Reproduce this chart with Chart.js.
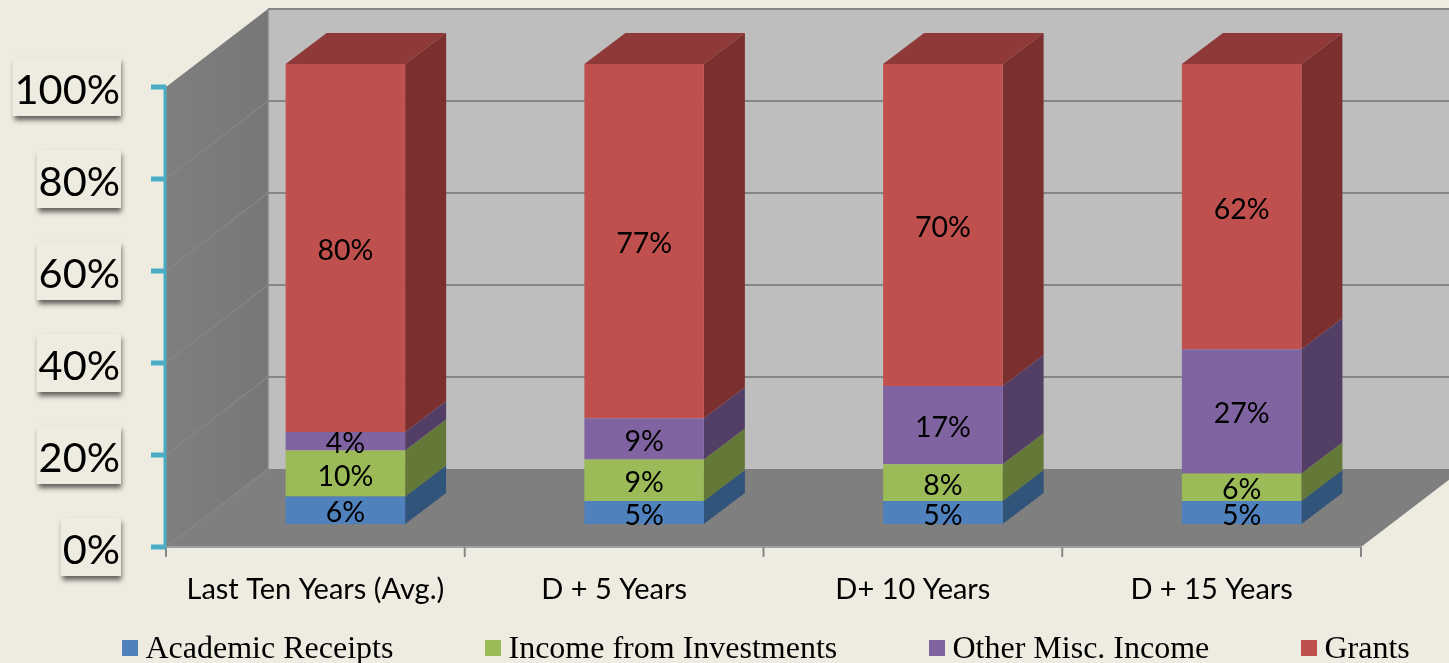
<!DOCTYPE html>
<html>
<head>
<meta charset="utf-8">
<title>Income mix</title>
<script src="https://cdn.jsdelivr.net/npm/chart.js@4/dist/chart.umd.min.js"></script>
<style>
    html, body { margin: 0; padding: 0; background: #EEECE1; overflow: hidden; }
    canvas { display: block; }
</style>
</head>
<body>
<canvas id="incomeChart" width="1449" height="663"></canvas>
<script>
const categories = ["Last Ten Years (Avg.)", "D + 5 Years", "D+ 10 Years", "D + 15 Years"];
const academicReceipts = [6, 5, 5, 5];
const incomeInvestments = [10, 9, 8, 6];
const otherMisc = [4, 9, 17, 27];
const grants = [80, 77, 70, 62];
const seriesNames = ["Academic Receipts", "Income from Investments", "Other Misc. Income", "Grants"];
const frontColors = ["#4F81BD", "#9BBB59", "#8064A2", "#C0504D"];
const sideColors = ["#31547A", "#647837", "#533F66", "#7B302F"];
const topColor = "#8F3A38";

// depth of the 3D box, and where the bars sit inside it
const depthX = 102, depthY = 78;
const barShiftX = 30, barShiftY = 23;
const barDepthX = 41, barDepthY = 31;

function poly(ctx, pts, fill) {
    ctx.beginPath();
    ctx.moveTo(pts[0][0], pts[0][1]);
    for (let i = 1; i < pts.length; i++) ctx.lineTo(pts[i][0], pts[i][1]);
    ctx.closePath();
    ctx.fillStyle = fill;
    ctx.fill();
}

function line(ctx, x1, y1, x2, y2, color, width) {
    ctx.beginPath();
    ctx.moveTo(x1, y1);
    ctx.lineTo(x2, y2);
    ctx.strokeStyle = color;
    ctx.lineWidth = width;
    ctx.stroke();
}

const boxPlugin = {
    id: "box3d",
    beforeDatasetsDraw(chart) {
        const { ctx } = chart;
        const xs = chart.scales.x, ys = chart.scales.y;
        const left = xs.left - barShiftX, right = xs.right - barShiftX;
        const axisY = v => ys.getPixelForValue(v) + barShiftY;
        const y0 = axisY(0), y100 = axisY(100);

        ctx.save();
        // back wall
        poly(ctx, [[left + depthX, y100 - depthY], [right + depthX, y100 - depthY],
                   [right + depthX, y0 - depthY], [left + depthX, y0 - depthY]], "#BEBEBE");
        // side wall
        const wallGrad = ctx.createLinearGradient(left, 0, left + depthX, 0);
        wallGrad.addColorStop(0, "#7F7F7F");
        wallGrad.addColorStop(1, "#777777");
        poly(ctx, [[left, y100], [left + depthX, y100 - depthY],
                   [left + depthX, y0 - depthY], [left, y0]], wallGrad);
        // floor
        poly(ctx, [[left, y0], [left + depthX, y0 - depthY],
                   [right + depthX, y0 - depthY], [right, y0]], "#7F7F7F");

        // gridlines on the walls
        ys.ticks.forEach(t => {
            const y = axisY(t.value);
            if (t.value > 0 && t.value < 100) {
                line(ctx, left, y, left + depthX, y - depthY, "#868686", 1.5);
            }
            if (t.value > 0) {
                line(ctx, left + depthX, y - depthY, right + depthX, y - depthY, "#868686", 2);
            }
        });
        line(ctx, left + depthX, y100 - depthY, left + depthX, y0 - depthY, "#868686", 1.5);
        line(ctx, left, y0, left + depthX, y0 - depthY, "#868686", 1.5);

        // category axis
        line(ctx, left, y0, right, y0, "#A0A0A0", 2);
        const band = (right - left) / categories.length;
        for (let i = 0; i <= categories.length; i++) {
            line(ctx, left + band * i, y0, left + band * i, y0 + 10, "#868686", 2);
        }

        // value axis
        line(ctx, left - 1, y100 - 1.5, left - 1, y0 + 1.5, "#4BACC6", 3);
        ys.ticks.forEach(t => {
            line(ctx, left - 15, axisY(t.value), left, axisY(t.value), "#4BACC6", 5);
        });

        // bar sides and tops
        chart.data.datasets.forEach((ds, di) => {
            chart.getDatasetMeta(di).data.forEach(bar => {
                const p = bar.getProps(["x", "y", "base", "width"], true);
                const r = p.x + p.width / 2, l = p.x - p.width / 2;
                poly(ctx, [[r, p.y], [r + barDepthX, p.y - barDepthY],
                           [r + barDepthX, p.base - barDepthY], [r, p.base]], sideColors[di]);
                if (di === chart.data.datasets.length - 1) {
                    poly(ctx, [[l, p.y], [l + barDepthX, p.y - barDepthY],
                               [r + barDepthX, p.y - barDepthY], [r, p.y]], topColor);
                }
            });
        });
        ctx.restore();
    },
    afterDraw(chart) {
        const { ctx } = chart;
        const xs = chart.scales.x, ys = chart.scales.y;
        ctx.save();

        // value labels on the bars
        ctx.fillStyle = "#000";
        ctx.font = "28.5px Lato";
        ctx.textAlign = "center";
        ctx.textBaseline = "middle";
        chart.data.datasets.forEach((ds, di) => {
            chart.getDatasetMeta(di).data.forEach((bar, i) => {
                const p = bar.getProps(["x", "y", "base"], true);
                ctx.fillText(ds.data[i] + "%", p.x, (p.y + p.base) / 2 + 3);
            });
        });

        // category labels, centred on the front of the box
        ctx.font = "29px Lato";
        categories.forEach((c, i) => {
            ctx.fillText(c, xs.getPixelForTick(i) - barShiftX, 590);
        });

        // value tick labels, each on its own small card
        ctx.font = "41.5px Lato";
        ctx.textAlign = "right";
        ys.ticks.forEach(t => {
            const y = ys.getPixelForValue(t.value) + barShiftY;
            const label = t.value + "%";
            const w = ctx.measureText(label).width;
            ctx.save();
            ctx.shadowColor = "rgba(0,0,0,0.6)";
            ctx.shadowBlur = 5;
            ctx.shadowOffsetX = 1;
            ctx.shadowOffsetY = 4;
            ctx.fillStyle = "#EEECE1";
            ctx.fillRect(121 - w - 3, y - 29, w + 3, 58);
            ctx.restore();
            ctx.fillStyle = "#000";
            ctx.fillText(label, 120, y + 4);
        });

        // legend
        const legendX = [122, 485, 929, 1301];
        ctx.font = "32px 'Liberation Serif'";
        ctx.textAlign = "left";
        ctx.textBaseline = "alphabetic";
        chart.data.datasets.forEach((ds, di) => {
            ctx.fillStyle = frontColors[di];
            ctx.fillRect(legendX[di], 640, 16, 16);
            ctx.fillStyle = "#000";
            ctx.fillText(ds.label, legendX[di] + 23.5, 658);
        });
        ctx.restore();
    }
};

const seriesData = [academicReceipts, incomeInvestments, otherMisc, grants];

new Chart(document.getElementById("incomeChart").getContext("2d"), {
    type: "bar",
    data: {
        labels: categories,
        datasets: seriesNames.map((name, i) => ({
            label: name,
            data: seriesData[i],
            backgroundColor: frontColors[i],
            categoryPercentage: 1,
            barPercentage: 0.4
        }))
    },
    options: {
        responsive: false,
        animation: false,
        layout: { padding: { left: 196, right: 58, top: 64, bottom: 139 } },
        scales: {
            x: { stacked: true, display: false },
            y: { stacked: true, display: false, min: 0, max: 100, ticks: { stepSize: 20 } }
        },
        plugins: {
            legend: { display: false },
            tooltip: { enabled: false }
        }
    },
    plugins: [boxPlugin]
});
</script>
</body>
</html>
